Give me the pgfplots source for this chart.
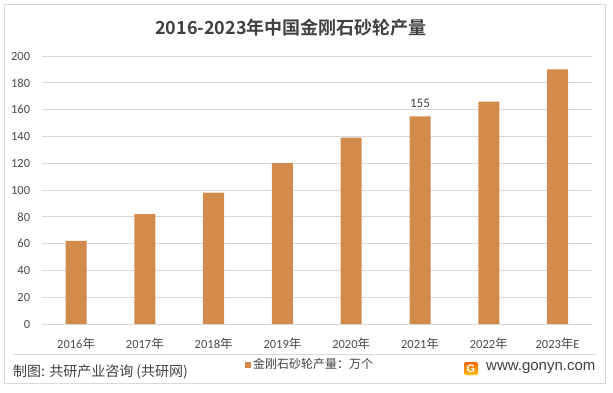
\documentclass[border=0pt]{standalone}
\usepackage{pgfplots}
\pgfplotsset{compat=1.18}
\usepackage{fontspec}
\setmainfont{Carlito}
\newfontfamily\cjk[BoldFont={Noto Sans CJK SC Bold}]{Noto Sans CJK SC}
\newfontfamily\arial{Liberation Sans}
\definecolor{barc}{HTML}{D38B4C}
\definecolor{gridc}{HTML}{D9D9D9}
\definecolor{txt}{HTML}{4A4A4A}
\definecolor{dark}{HTML}{404040}
\begin{document}
\begin{tikzpicture}[x=1pt,y=1pt]
\useasboundingbox (0,0) rectangle (613,392);
\draw[gridc, line width=0.8pt] (4,9) rectangle (605,388);
\begin{axis}[
  at={(41.7pt,68pt)}, anchor=south west,
  scale only axis, width=550.3pt, height=268pt,
  xmin=-0.5, xmax=7.5, ymin=0, ymax=200,
  ytick={0,20,...,200},
  xtick={0,...,7},
  xticklabels={2016{\cjk 年},2017{\cjk 年},2018{\cjk 年},2019{\cjk 年},2020{\cjk 年},2021{\cjk 年},2022{\cjk 年},2023{\cjk 年}E},
  axis line style={draw=none},
  major tick length=0pt,
  ymajorgrids, grid style={gridc, line width=0.8pt},
  ticklabel style={font=\fontsize{12.5}{14}\selectfont, text=txt},
  /pgf/number format/assume math mode=true,
  yticklabel style={xshift=-8pt},
  xticklabel style={yshift=-10pt},
  clip=false,
]
\addplot[ybar, bar width=21pt, fill=barc, draw=none] coordinates {
(0,62) (1,82) (2,98) (3,120) (4,139) (5,155) (6,166) (7,190)};
\node[text=dark, font=\fontsize{13}{15}\selectfont, anchor=south] at (axis cs:5,155) [yshift=5pt] {155};
\end{axis}
\node[text=dark, font=\cjk\bfseries\fontsize{18}{20}\selectfont] at (291,364) {2016-2023年中国金刚石砂轮产量};
\draw[gridc, line width=0.8pt] (13,38) -- (596,38);
\node[anchor=west, text=dark, font=\cjk\fontsize{14}{16}\selectfont, inner sep=0] at (13,20.5) {制图: 共研产业咨询 (共研网)};
\fill[barc] (245,24.5) rectangle (251,30.5);
\node[anchor=west, text=dark, font=\cjk\fontsize{12}{14}\selectfont, inner sep=0] at (253,28) {金刚石砂轮产量：万个};
\shade[top color=orange!80!red, bottom color=orange!50!yellow, rounded corners=2pt] (464,17) rectangle (478,30);
\node[text=white, font=\arial\bfseries\fontsize{11}{11}\selectfont, inner sep=0] at (471,23.5) {G};
\node[anchor=west, text=dark, font=\arial\fontsize{15}{17}\selectfont, inner sep=0] at (486,24) {www.gonyn.com};
\end{tikzpicture}
\end{document}
